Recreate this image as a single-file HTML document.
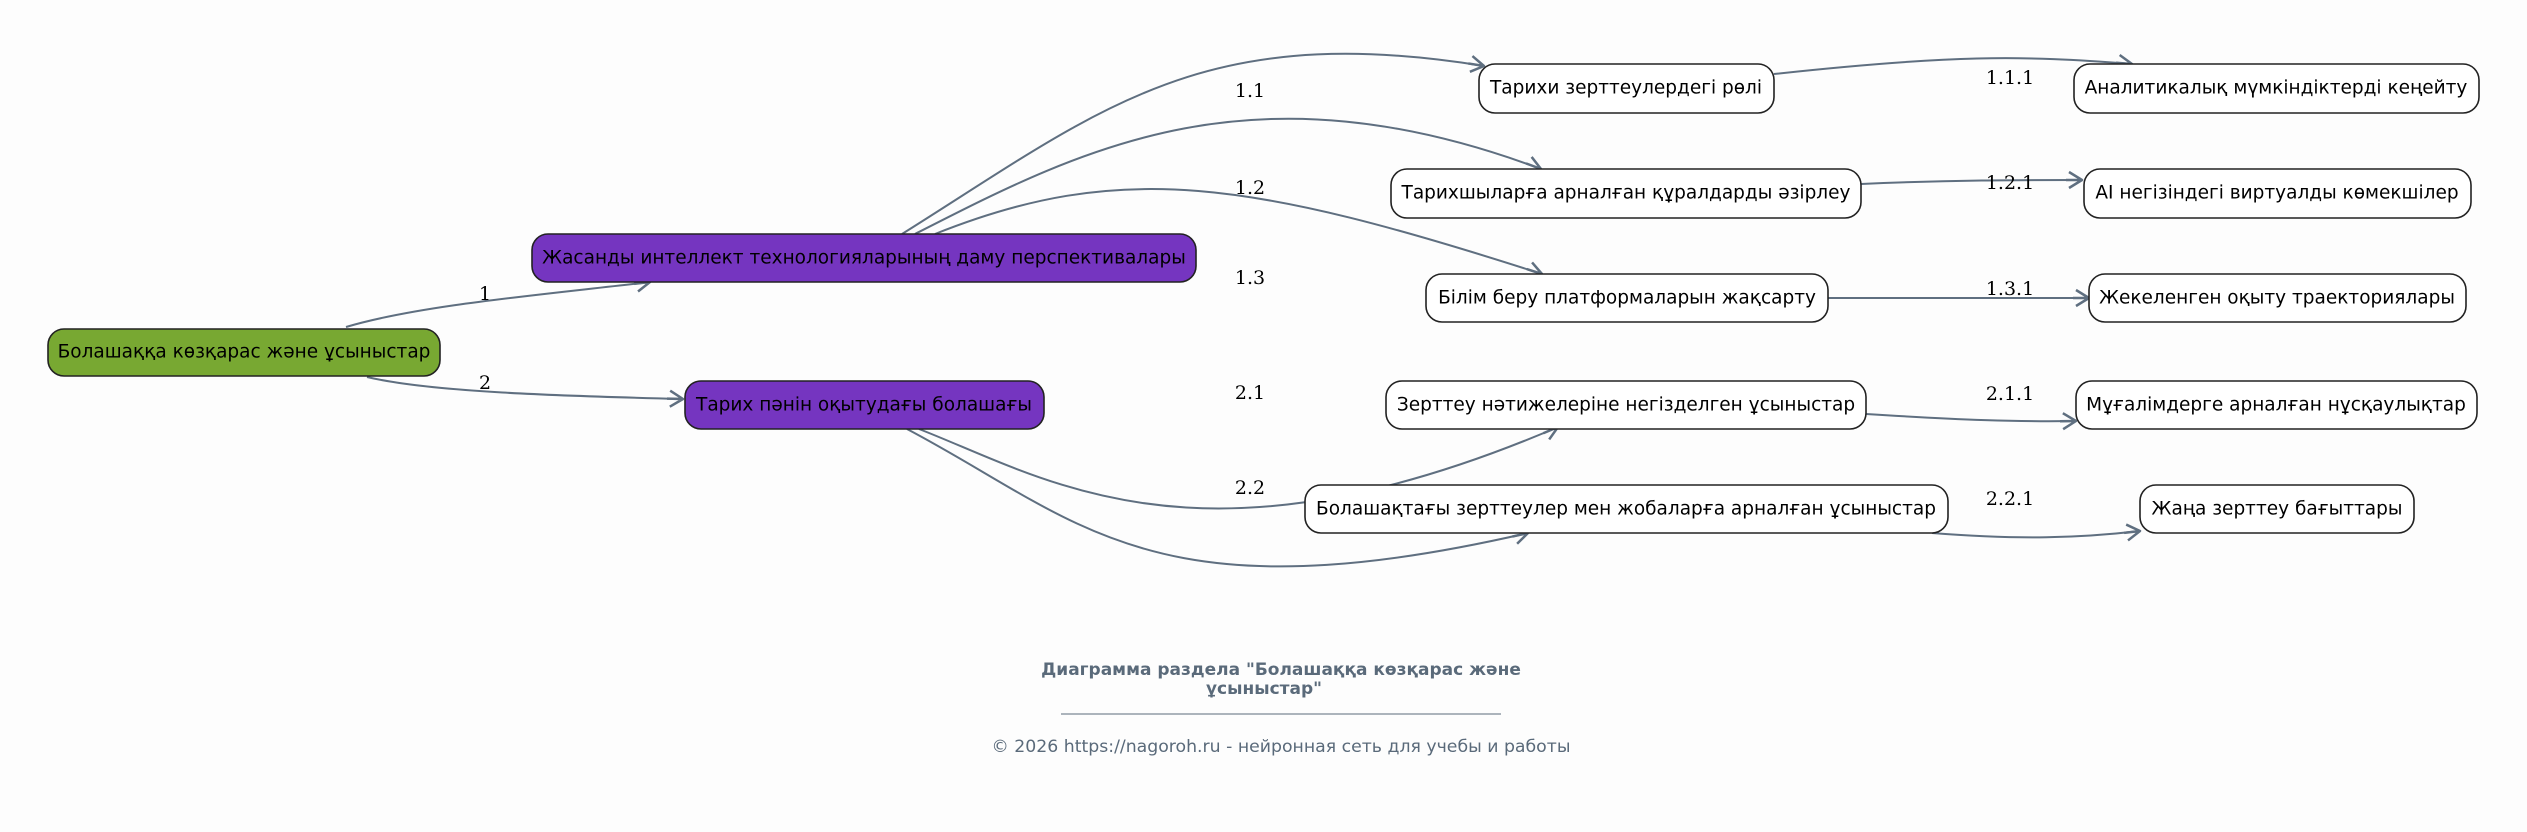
<!DOCTYPE html>
<html><head><meta charset="utf-8"><style>
html,body{margin:0;padding:0;background:#fdfdfd;}
svg{display:block;}
.n{font-family:"DejaVu Sans","Liberation Sans",sans-serif;font-size:18.5px;fill:#000;}
.l{font-family:"DejaVu Serif","Liberation Serif",serif;font-size:19px;fill:#000;}
.e{fill:none;stroke:#5f6f80;stroke-width:2;marker-end:url(#a);}
</style></head><body>
<svg width="2527" height="832" viewBox="0 0 2527 832" xmlns="http://www.w3.org/2000/svg">
<defs><marker id="a" markerWidth="22" markerHeight="20" refX="16" refY="10" orient="auto" markerUnits="userSpaceOnUse"><path d="M3,2 L16,10 L3,18 M0,10 L16,10" fill="none" stroke="#5f6f80" stroke-width="2.5" stroke-linejoin="round"/></marker></defs>
<g>
<path class="e" d="M346,327 C420,305 540,295 650,282"/>
<path class="e" d="M367,377 C430,392 560,396 683,399"/>
<path class="e" d="M902,234 C1100,110 1200,20 1484,66"/>
<path class="e" d="M915,234 C1080,150 1250,60 1541,169"/>
<path class="e" d="M935,234 C1120,160 1250,180 1542,274"/>
<path class="e" d="M919,429 C1050,480 1200,580 1558,427"/>
<path class="e" d="M907,429 C1080,520 1150,620 1528,533"/>
<path class="e" d="M1774,74 C1950,55 2020,55 2132,64"/>
<path class="e" d="M1861,184 C1950,180 2020,180 2082,180"/>
<path class="e" d="M1828,298 L2089,298"/>
<path class="e" d="M1866,414 C1960,420 2020,422 2076,421"/>
<path class="e" d="M1932,533 C2020,540 2080,538 2140,531"/>
</g>
<g stroke="#222" stroke-width="1.6">
<rect x="48" y="329" width="392" height="47" rx="16" fill="#78a832"/>
<rect x="532" y="234" width="664" height="48" rx="16" fill="#7535c0"/>
<rect x="685" y="381" width="359" height="48" rx="16" fill="#7535c0"/>
<rect x="1479" y="64" width="295" height="49" rx="16" fill="#fff"/>
<rect x="1391" y="169" width="470" height="49" rx="16" fill="#fff"/>
<rect x="1426" y="274" width="402" height="48" rx="16" fill="#fff"/>
<rect x="1386" y="381" width="480" height="48" rx="16" fill="#fff"/>
<rect x="1305" y="485" width="643" height="48" rx="16" fill="#fff"/>
<rect x="2074" y="64" width="405" height="49" rx="16" fill="#fff"/>
<rect x="2084" y="169" width="387" height="49" rx="16" fill="#fff"/>
<rect x="2089" y="274" width="377" height="48" rx="16" fill="#fff"/>
<rect x="2076" y="381" width="401" height="48" rx="16" fill="#fff"/>
<rect x="2140" y="485" width="274" height="48" rx="16" fill="#fff"/>
</g>
<g class="n" text-anchor="middle" dominant-baseline="central">
<text x="244" y="352">Болашаққа көзқарас және ұсыныстар</text>
<text x="864" y="258">Жасанды интеллект технологияларының даму перспективалары</text>
<text x="864" y="405">Тарих пәнін оқытудағы болашағы</text>
<text x="1626" y="88">Тарихи зерттеулердегі рөлі</text>
<text x="1626" y="193">Тарихшыларға арналған құралдарды әзірлеу</text>
<text x="1627" y="298">Білім беру платформаларын жақсарту</text>
<text x="1626" y="405">Зерттеу нәтижелеріне негізделген ұсыныстар</text>
<text x="1626" y="509">Болашақтағы зерттеулер мен жобаларға арналған ұсыныстар</text>
<text x="2276" y="88">Аналитикалық мүмкіндіктерді кеңейту</text>
<text x="2277" y="193">AI негізіндегі виртуалды көмекшілер</text>
<text x="2277" y="298">Жекеленген оқыту траекториялары</text>
<text x="2276" y="405">Мұғалімдерге арналған нұсқаулықтар</text>
<text x="2277" y="509">Жаңа зерттеу бағыттары</text>
</g>
<g class="l" text-anchor="middle">
<text x="485" y="300">1</text>
<text x="485" y="389">2</text>
<text x="1250" y="97">1.1</text>
<text x="1250" y="194">1.2</text>
<text x="1250" y="284">1.3</text>
<text x="1250" y="399">2.1</text>
<text x="1250" y="494">2.2</text>
<text x="2010" y="84">1.1.1</text>
<text x="2010" y="189">1.2.1</text>
<text x="2010" y="295">1.3.1</text>
<text x="2010" y="400">2.1.1</text>
<text x="2010" y="505">2.2.1</text>
</g>
<g font-family="'DejaVu Sans','Liberation Sans',sans-serif" fill="#5a6a7a" text-anchor="middle">
<text x="1281" y="675" font-size="17" font-weight="bold">Диаграмма раздела "Болашаққа көзқарас және</text>
<text x="1264" y="694" font-size="17" font-weight="bold">ұсыныстар"</text>
<line x1="1061" y1="714" x2="1501" y2="714" stroke="#5a6a7a" stroke-width="1"/>
<text x="1281" y="752" font-size="17.3">© 2026 https://nagoroh.ru - нейронная сеть для учебы и работы</text>
</g>
</svg>
</body></html>
